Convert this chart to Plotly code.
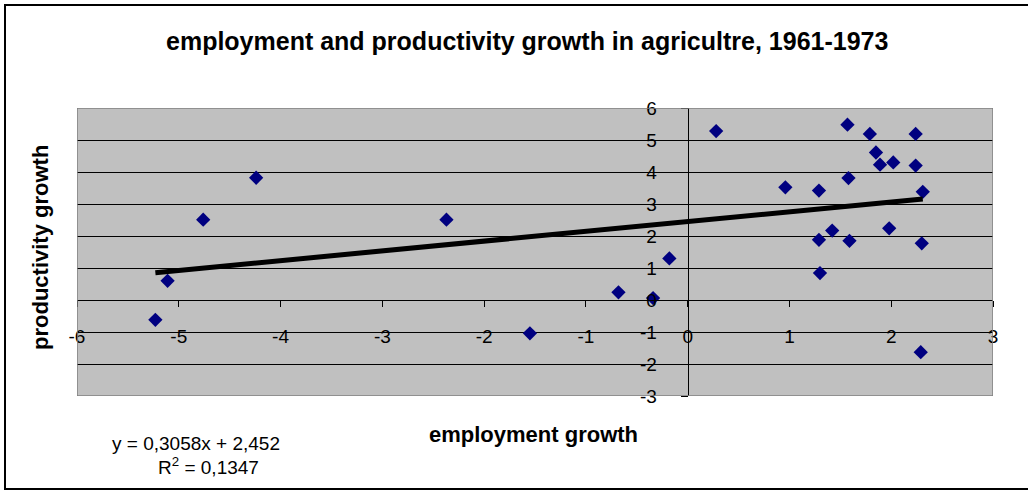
import plotly.graph_objects as go

# Employment growth vs productivity growth in agriculture, 1961-1973 (% per year)
employment_growth = [-5.23, -5.11, -4.76, -4.24, -2.37, -1.55, -0.68, -0.34, -0.18,
                     0.28, 0.96, 1.29, 1.29, 1.30, 1.42, 1.57, 1.58, 1.59, 1.79,
                     1.85, 1.89, 1.98, 2.02, 2.24, 2.24, 2.29, 2.30, 2.31]
productivity_growth = [-0.62, 0.60, 2.51, 3.82, 2.51, -1.04, 0.24, 0.06, 1.30,
                       5.28, 3.52, 3.42, 1.88, 0.84, 2.17, 5.48, 3.81, 1.85, 5.19,
                       4.61, 4.23, 2.24, 4.30, 5.19, 4.20, -1.63, 1.77, 3.38]

# Linear trend reported for the series
trend_slope = 0.3058
trend_intercept = 2.452
trend_r2 = 0.1347

x_ticks = [-6, -5, -4, -3, -2, -1, 0, 1, 2, 3]
y_ticks = [-3, -2, -1, 0, 1, 2, 3, 4, 5, 6]

W, H = 1028, 491
ML, MR, MT, MB = 77, 35, 108, 95
PW, PH = W - ML - MR, H - MT - MB

X_MIN, X_MAX = -6, 3
Y_MIN, Y_MAX = -3, 6

FONT = "Liberation Sans, Arial, sans-serif"


def px_to_paper(px, py):
    return (px - ML) / PW, (H - MB - py) / PH


trend_x = [min(employment_growth), max(employment_growth)]
trend_y = [trend_slope * v + trend_intercept for v in trend_x]

fig = go.Figure()

fig.add_trace(go.Scatter(
    x=employment_growth, y=productivity_growth, mode="markers",
    marker=dict(symbol="diamond", size=11, color="#000080", line=dict(width=0)),
    showlegend=False, hoverinfo="x+y",
))
fig.add_trace(go.Scatter(
    x=trend_x, y=trend_y, mode="lines",
    line=dict(color="black", width=5),
    showlegend=False, hoverinfo="skip",
))

fmt = lambda v: str(v)  # plain hyphen-minus labels

fig.update_layout(
    width=W, height=H,
    margin=dict(l=ML, r=MR, t=MT, b=MB, pad=0),
    paper_bgcolor="white",
    plot_bgcolor="#C0C0C0",
    font=dict(family=FONT, color="black", size=19),
    xaxis=dict(
        range=[X_MIN, X_MAX], anchor="free",
        position=(0 - Y_MIN) / (Y_MAX - Y_MIN),
        tickvals=x_ticks, ticktext=[fmt(v) for v in x_ticks],
        ticks="outside", ticklen=6, tickwidth=1, tickcolor="black",
        ticklabelstandoff=13,
        showline=True, linecolor="black", linewidth=1,
        showgrid=False, zeroline=False,
        tickfont=dict(size=19, family=FONT, color="black"),
    ),
    yaxis=dict(
        range=[Y_MIN, Y_MAX], anchor="free",
        position=(0 - X_MIN) / (X_MAX - X_MIN),
        tickvals=y_ticks, ticktext=[fmt(v) for v in y_ticks],
        ticks="outside", ticklen=7, tickwidth=1, tickcolor="black",
        ticklabelstandoff=20,
        showline=True, linecolor="black", linewidth=1,
        showgrid=True, gridcolor="black", gridwidth=1,
        zeroline=False,
        tickfont=dict(size=19, family=FONT, color="black"),
    ),
)

# plot-area frame
fig.add_shape(type="rect", xref="x", yref="y",
              x0=X_MIN, x1=X_MAX, y0=Y_MIN, y1=Y_MAX,
              line=dict(color="#808080", width=1.5), layer="above")

# chart-area frame
bx0, by0 = px_to_paper(5, 489)
bx1, by1 = px_to_paper(1040, 5)
fig.add_shape(type="rect", xref="paper", yref="paper",
              x0=bx0, x1=bx1, y0=by0, y1=by1,
              line=dict(color="black", width=2), layer="above")

ann = []
tx, ty = px_to_paper(527, 41)
ann.append(dict(x=tx, y=ty, text="<b>employment and productivity growth in agricultre, 1961-1973</b>",
                font=dict(size=25, family=FONT, color="black")))
ax, ay = px_to_paper(533, 434)
ann.append(dict(x=ax, y=ay, text="<b>employment growth</b>",
                font=dict(size=22, family=FONT, color="black")))
yx, yy = px_to_paper(40, 248)
ann.append(dict(x=yx, y=yy, text="<b>productivity growth</b>", textangle=-90,
                font=dict(size=22, family=FONT, color="black")))
ex, ey = px_to_paper(196, 443)
ann.append(dict(x=ex, y=ey,
                text=f"y = {str(trend_slope).replace('.', ',')}x + {str(trend_intercept).replace('.', ',')}",
                font=dict(size=19, family=FONT, color="black")))
rx, ry = px_to_paper(208, 466)
ann.append(dict(x=rx, y=ry,
                text=f"R<sup>2</sup> = {str(trend_r2).replace('.', ',')}",
                font=dict(size=19, family=FONT, color="black")))
for a in ann:
    a.update(xref="paper", yref="paper", showarrow=False,
             xanchor="center", yanchor="middle")
fig.update_layout(annotations=ann)

fig.write_html("out.html")
